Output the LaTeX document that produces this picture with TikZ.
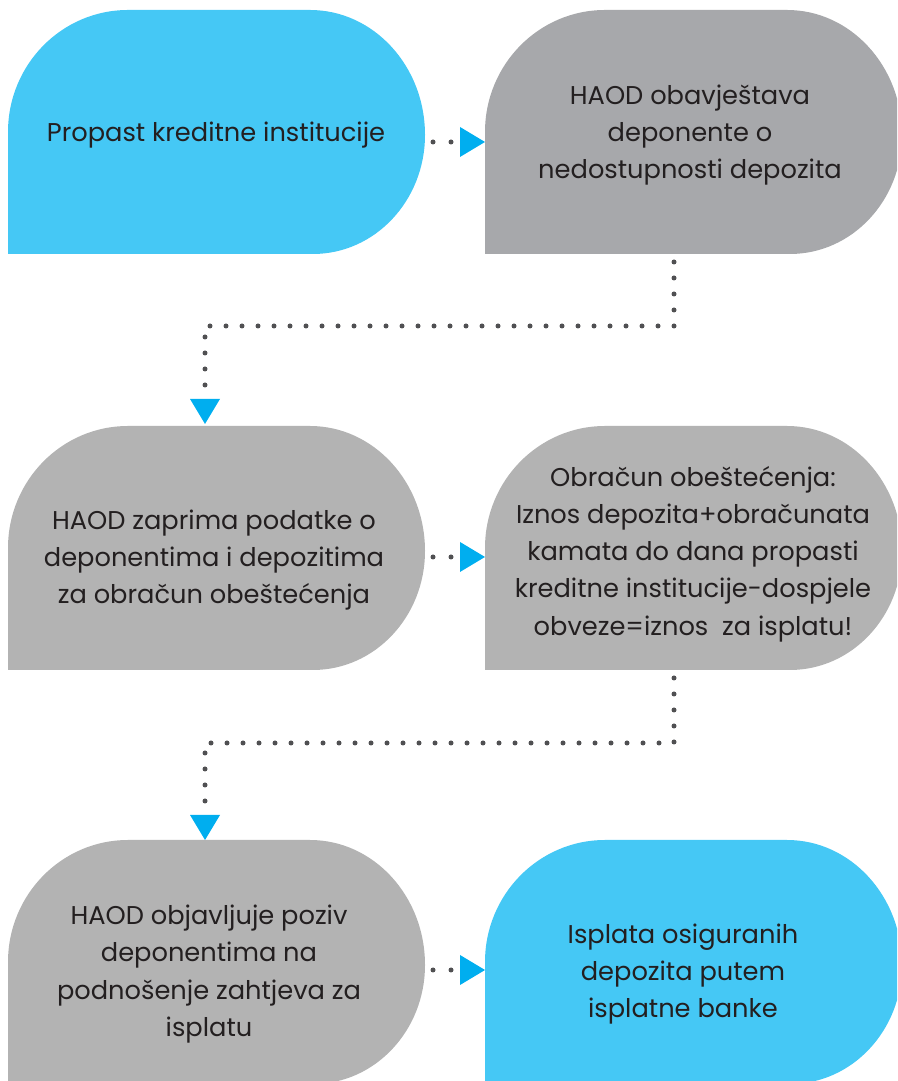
\documentclass[tikz,border=0pt]{standalone}
\usepackage{fontspec}
\setmainfont{Poppins}
\usetikzlibrary{arrows.meta,calc}
\definecolor{sky}{HTML}{45C8F5}
\definecolor{greyA}{HTML}{A7A8AB}
\definecolor{greyB}{HTML}{B3B3B3}
\definecolor{tipblue}{HTML}{00AEEF}
\definecolor{dotgrey}{HTML}{505052}
\definecolor{ink}{HTML}{231F20}
\begin{document}
\begin{tikzpicture}[x=1pt,y=1pt,
  blob/.style={minimum width=417pt,minimum height=244pt,inner sep=0pt,outer sep=0pt,
    path picture={
      \fill[#1] let \p1=(path picture bounding box.south west),
                    \p2=(path picture bounding box.north east) in
        (\x1,\y1) -- (\x2-112pt,\y1)
        arc[start angle=-90,end angle=0,x radius=112pt,y radius=119pt]
        -- (\x2,\y2-125pt)
        arc[start angle=0,end angle=90,x radius=115pt,y radius=125pt]
        -- (\x1+120pt,\y2)
        arc[start angle=90,end angle=180,x radius=120pt,y radius=122pt]
        -- cycle;
    }},
  boxtext/.style={font=\fontsize{25.7}{37.2}\selectfont, text=ink, align=center, inner sep=0pt},
  dotline/.style={draw=dotgrey, line width=5pt, line cap=round},
  hdots/.style={dotline, dash pattern=on 0pt off 18pt, dash phase=10pt},
  vdots/.style={dotline, dash pattern=on 0pt off 16pt, dash phase=8pt},
  tipend/.style={-{Triangle[width=30pt,length=25pt,line width=0pt,color=tipblue,fill=tipblue]}}
]
\useasboundingbox (0,0) rectangle (897,1081);
\clip (0,0) rectangle (897,1081);

% boxes
\node[blob=sky]   (b1) at (216.5,949) {};
\node[blob=greyA] (b2) at (693.5,949) {};
\node[blob=greyB] (b3) at (216.5,533) {};
\node[blob=greyB] (b4) at (693.5,533) {};
\node[blob=greyB] (b5) at (216.5,119) {};
\node[blob=sky]   (b6) at (693.5,119) {};

% texts
\node[boxtext] (t1) at (216,946) {Propast kreditne institucije};
\node[boxtext] (t2) at (690,946) {HAOD obavještava\\deponente o\\nedostupnosti depozita};
\node[boxtext] (t3) at (214,521) {HAOD zaprima podatke o\\deponentima i depozitima\\za obračun obeštećenja};
\node[boxtext] (t4) at (693,527) {Obračun obeštećenja:\\Iznos depozita+obračunata\\kamata do dana propasti\\kreditne institucije-dospjele\\obveze=iznos\ \ za isplatu!};
\node[boxtext] (t5) at (209,107) {HAOD objavljuje poziv\\deponentima na\\podnošenje zahtjeva za\\isplatu};
\node[boxtext] (t6) at (683,107) {Isplata osiguranih\\depozita putem\\isplatne banke};

% horizontal connectors
\draw[hdots, tipend] ([yshift=-10pt]b1.east) -- ([yshift=-10pt]b2.west);
\draw[hdots, tipend] ([yshift=-9pt]b3.east) -- ([yshift=-9pt]b4.west);
\draw[hdots, tipend] ([yshift=-8pt]b5.east) -- ([yshift=-8pt]b6.west);

% vertical connectors
\draw[vdots, tipend] ([xshift=-19.5pt]b2.south) -- ++(0,-72) -| ([xshift=-11.5pt,yshift=2pt]b3.north);
\draw[vdots, tipend] ([xshift=-19.5pt]b4.south) -- ++(0,-73) -| ([xshift=-11.5pt]b5.north);
\end{tikzpicture}
\end{document}
